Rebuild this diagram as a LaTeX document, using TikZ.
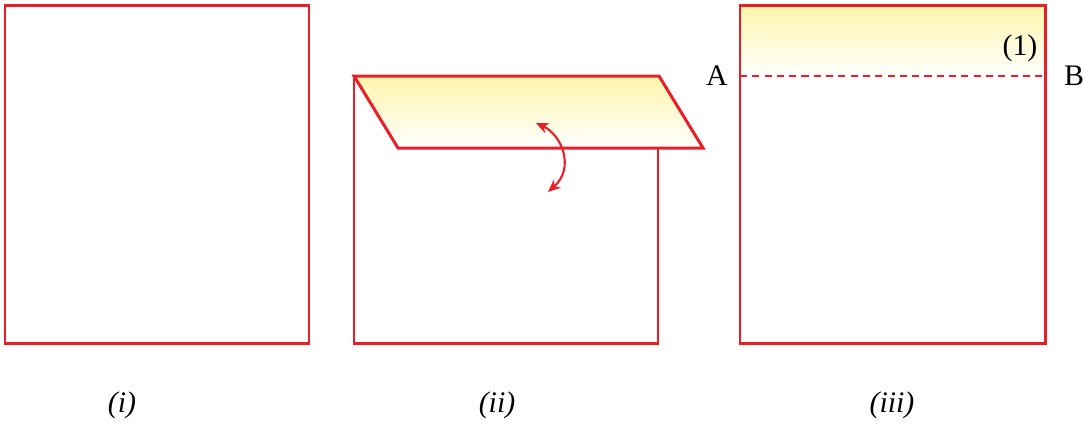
\documentclass[tikz,border=0pt]{standalone}
\usepackage{fontspec}
\setmainfont{Liberation Serif}
\usepackage{tikz}
\usetikzlibrary{arrows.meta, positioning, calc}
\definecolor{FoldRed}{RGB}{232, 30, 40}
\definecolor{FoldYellow}{RGB}{255, 245, 170}

\begin{document}
\begin{tikzpicture}[x=0.02cm, y=-0.02cm,
    sheet/.style={color=FoldRed, line width=1.7pt, line join=miter},
    caption/.style={font=\fontsize{17}{20}\selectfont\itshape},
    letter/.style={font=\fontsize{17}{20}\selectfont}]
    \useasboundingbox (0,0) rectangle (1083,424);

    % (i) plain sheet
    \draw[sheet] (5,5) rectangle (309,343);
    \node[caption] (capI) at (122,405) {(i)};

    % (ii) top strip folded over
    \draw[sheet] (354,76) -- (354,343) -- (658,343) -- (658,148);
    \shade[top color=FoldYellow, bottom color=white] (354,76) -- (659,76) -- (703,148) -- (398,148) -- cycle;
    \draw[sheet] (354,76) -- (659,76) -- (703,148) -- (398,148) -- cycle;
    \coordinate (turnTop) at (536,123);
    \coordinate (turnBot) at (548,192);
    \draw[{Stealth[length=7pt, width=6pt, inset=2pt]}-{Stealth[length=7pt, width=6pt, inset=2pt]}, color=FoldRed, line width=1.2pt]
        (turnTop) .. controls (562,135) and (575,168) .. (turnBot);
    \node[caption] (capII) at (497,405) {(ii)};

    % (iii) unfolded, crease AB
    \shade[top color=FoldYellow, bottom color=white] (740,5) rectangle (1045,76);
    \draw[sheet] (740,5) rectangle (1045,343);
    \coordinate (creaseA) at (740,76);
    \coordinate (creaseB) at (1045,76);
    \draw[color=FoldRed, line width=1.3pt, dash pattern=on 4pt off 3pt] (creaseA) -- (creaseB);
    \node[letter] (labA) at (717,76) {A};
    \node[letter] (labB) at (1074,76) {B};
    \node[letter] (stripOne) at (1020,48) {(1)};
    \node[caption] (capIII) at (892,405) {(iii)};
\end{tikzpicture}
\end{document}
